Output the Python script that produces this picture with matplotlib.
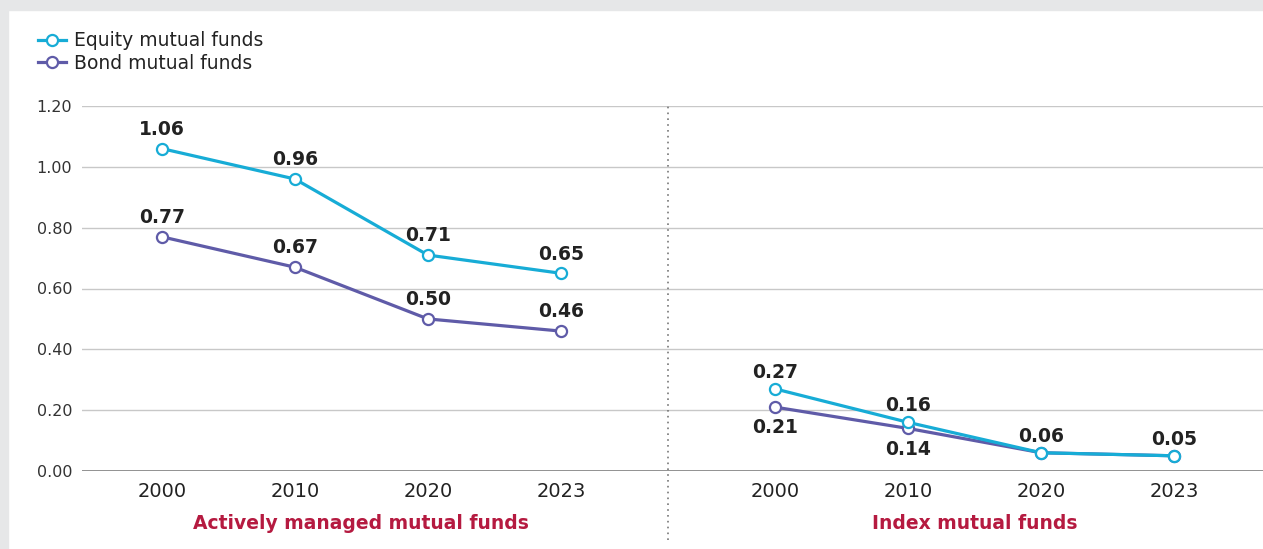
import numpy as np
import matplotlib.pyplot as plt
from matplotlib.patches import Rectangle
from matplotlib.lines import Line2D

plt.rcParams['font.family'] = ['DejaVu Sans']

years = ['2000', '2010', '2020', '2023']
groups = ['Actively managed mutual funds', 'Index mutual funds']
equity_active = [1.06, 0.96, 0.71, 0.65]
bond_active = [0.77, 0.67, 0.50, 0.46]
equity_index = [0.27, 0.16, 0.06, 0.05]
bond_index = [0.21, 0.14, 0.06, 0.05]
yticks = [0.0, 0.2, 0.4, 0.6, 0.8, 1.0, 1.2]

c_eq = '#17acd6'
c_bd = '#5f5ba8'
c_txt = '#222222'
c_cat = '#b51a40'

fig = plt.figure(figsize=(12.63, 5.49), dpi=100)
# gray frame at the top and left edges
fig.patches.append(Rectangle((0, 1 - 10 / 549), 1, 10 / 549, transform=fig.transFigure,
                             color='#e6e7e8', zorder=0))
fig.patches.append(Rectangle((0, 0), 8 / 1263, 1, transform=fig.transFigure,
                             color='#e6e7e8', zorder=0))

ax = fig.add_axes([82 / 1263, 78 / 549, 1 - 82 / 1263, 365 / 549])

x_left = np.arange(4)
gap = 4.61
x_right = x_left + gap

mk = dict(lw=2.3, marker='o', ms=8, mfc='white', mew=1.6)
for x, eq, bd in [(x_left, equity_active, bond_active), (x_right, equity_index, bond_index)]:
    ax.plot(x, bd, color=c_bd, mec=c_bd, zorder=3, **mk)
    ax.plot(x, eq, color=c_eq, mec=c_eq, zorder=4, **mk)

lbl = dict(ha='center', fontsize=13.5, fontweight='bold', color=c_txt)
for xi, v in zip(x_left, equity_active):
    ax.annotate(f'{v:.2f}', (xi, v), xytext=(0, 7), textcoords='offset points', va='bottom', **lbl)
for xi, v in zip(x_left, bond_active):
    ax.annotate(f'{v:.2f}', (xi, v), xytext=(0, 7), textcoords='offset points', va='bottom', **lbl)
for xi, v in zip(x_right, equity_index):
    ax.annotate(f'{v:.2f}', (xi, v), xytext=(0, 5), textcoords='offset points', va='bottom', **lbl)
for xi, v in zip(x_right[:2], bond_index[:2]):
    ax.annotate(f'{v:.2f}', (xi, v), xytext=(0, -8), textcoords='offset points', va='top', **lbl)

ax.set_xlim(-0.6, (1263 - 162) / 133)
ax.set_ylim(0, 1.2)
ax.set_yticks(yticks)
ax.set_yticklabels([f'{t:.2f}' for t in yticks], fontsize=11.5, color='#333333')
ax.set_xticks(list(x_left) + list(x_right))
ax.set_xticklabels(years * 2, fontsize=14, color=c_txt)
ax.tick_params(length=0)
ax.tick_params(axis='y', pad=7)
ax.tick_params(axis='x', pad=8)
for s in ax.spines.values():
    s.set_visible(False)
ax.grid(axis='y', color='#c8c8c8', lw=1)
ax.axhline(0, color='#8a8a8a', lw=1.3, zorder=2)
ax.set_axisbelow(True)

# dotted divider between the two groups
xd = (3 + x_right[0]) / 2
ax.plot([xd, xd], [-0.19, 1.0], transform=ax.get_xaxis_transform(), ls=(0, (1, 2.5)),
        color='#777777', lw=1.2, clip_on=False)

for cx, name in zip([x_left.mean(), x_right.mean()], groups):
    ax.text(cx, -0.145, name, transform=ax.get_xaxis_transform(), ha='center', va='center',
            fontsize=13.5, fontweight='bold', color=c_cat)

handles = [Line2D([], [], color=c_eq, mec=c_eq, **mk),
           Line2D([], [], color=c_bd, mec=c_bd, **mk)]
fig.legend(handles, ['Equity mutual funds', 'Bond mutual funds'], loc='upper left',
           bbox_to_anchor=(29 / 1263, 1 - 22 / 549), frameon=False, fontsize=13.5,
           handlelength=1.45, handletextpad=0.45, labelspacing=0.18, borderpad=0,
           labelcolor=c_txt)

fig.savefig('out.png', dpi=100)
